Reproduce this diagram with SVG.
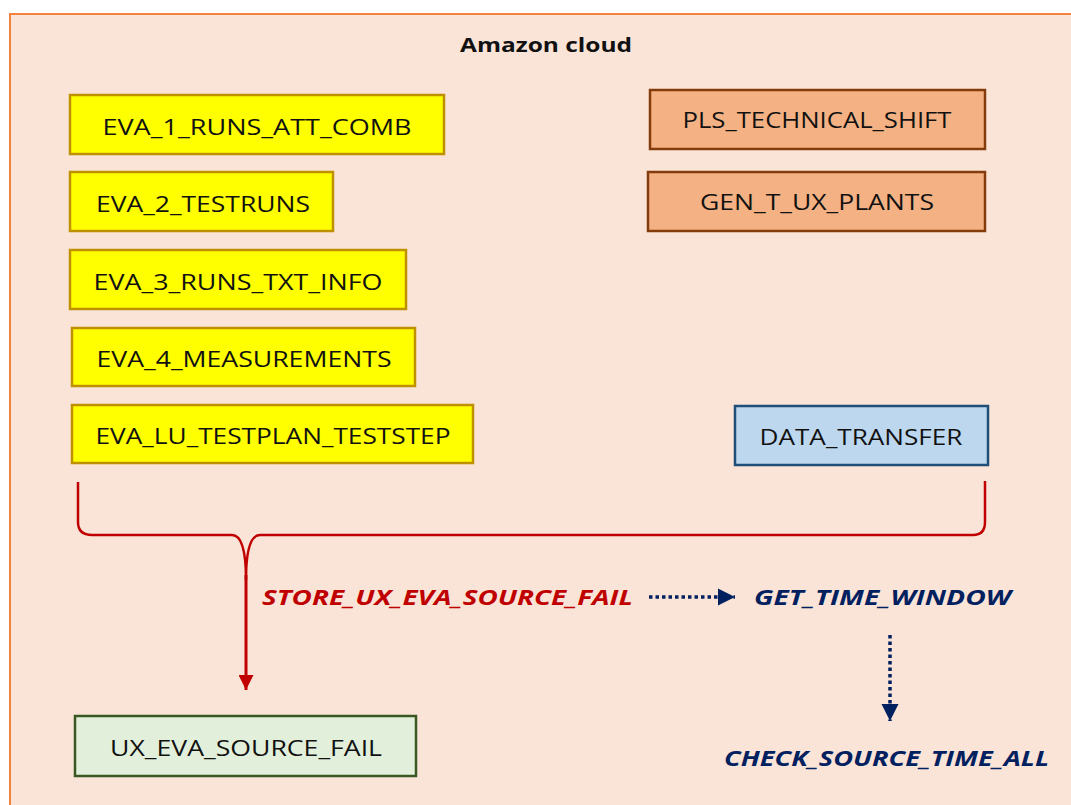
<svg xmlns="http://www.w3.org/2000/svg" width="1071" height="805" viewBox="0 0 1071 805">
<style>
.lbl{font-family:"Open Sans","Liberation Sans",sans-serif;font-size:22px;fill:#111;}
.yel{fill:#FFFF00;stroke:#BF9000;stroke-width:2.5;}
.org{fill:#F4B183;stroke:#843C0C;stroke-width:2.5;}
.blu{fill:#BDD7EE;stroke:#1F4E79;stroke-width:2.5;}
.grn{fill:#E2EFDA;stroke:#385723;stroke-width:2.5;}
.red{font-family:"Open Sans","Liberation Sans",sans-serif;font-size:22px;font-weight:bold;font-style:italic;fill:#C00000;}
.nav{font-family:"Open Sans","Liberation Sans",sans-serif;font-size:22px;font-weight:bold;font-style:italic;fill:#002060;}
</style>
<defs>
<marker id="ar" viewBox="0 0 10 10" refX="10" refY="5" markerWidth="5" markerHeight="5" orient="auto" markerUnits="strokeWidth"><path d="M0,0 L10,5 L0,10 z" fill="#C00000"/></marker>
<marker id="an" viewBox="0 0 10 10" refX="10" refY="5" markerWidth="5" markerHeight="5" orient="auto" markerUnits="strokeWidth"><path d="M0,0 L10,5 L0,10 z" fill="#002060"/></marker>
</defs>
<rect x="0" y="0" width="1071" height="805" fill="#FFFFFF"/>
<rect x="10" y="14" width="1075" height="800" fill="#FAE4D7" stroke="#F4823C" stroke-width="2"/>
<text x="546" y="52" text-anchor="middle" font-family="'Open Sans','Liberation Sans',sans-serif" font-size="20" font-weight="bold" fill="#111" textLength="172" lengthAdjust="spacingAndGlyphs">Amazon cloud</text>
<g id="eva1"><rect class="yel" x="70" y="95" width="374" height="59"/><text class="lbl" x="257" y="135" text-anchor="middle" textLength="309" lengthAdjust="spacingAndGlyphs">EVA_1_RUNS_ATT_COMB</text></g>
<g id="eva2"><rect class="yel" x="70" y="172" width="263" height="59"/><text class="lbl" x="203" y="212" text-anchor="middle" textLength="214" lengthAdjust="spacingAndGlyphs">EVA_2_TESTRUNS</text></g>
<g id="eva3"><rect class="yel" x="70" y="250" width="336" height="59"/><text class="lbl" x="238" y="290" text-anchor="middle" textLength="289" lengthAdjust="spacingAndGlyphs">EVA_3_RUNS_TXT_INFO</text></g>
<g id="eva4"><rect class="yel" x="72" y="328" width="343" height="58"/><text class="lbl" x="244" y="367" text-anchor="middle" textLength="295" lengthAdjust="spacingAndGlyphs">EVA_4_MEASUREMENTS</text></g>
<g id="evalu"><rect class="yel" x="72" y="405" width="401" height="58"/><text class="lbl" x="273" y="444" text-anchor="middle" textLength="355" lengthAdjust="spacingAndGlyphs">EVA_LU_TESTPLAN_TESTSTEP</text></g>
<g id="pls"><rect class="org" x="650" y="90" width="335" height="59"/><text class="lbl" x="817" y="128" text-anchor="middle" textLength="269" lengthAdjust="spacingAndGlyphs">PLS_TECHNICAL_SHIFT</text></g>
<g id="gen"><rect class="org" x="648" y="172" width="337" height="59"/><text class="lbl" x="817" y="210" text-anchor="middle" textLength="234" lengthAdjust="spacingAndGlyphs">GEN_T_UX_PLANTS</text></g>
<g id="data"><rect class="blu" x="735" y="406" width="253" height="59"/><text class="lbl" x="861" y="445" text-anchor="middle" textLength="203" lengthAdjust="spacingAndGlyphs">DATA_TRANSFER</text></g>
<g id="ux"><rect class="grn" x="75" y="716" width="341" height="60"/><text class="lbl" x="246" y="756" text-anchor="middle" textLength="272" lengthAdjust="spacingAndGlyphs">UX_EVA_SOURCE_FAIL</text></g>
<g id="connectors" fill="none">
<path d="M78,482 L78,522 Q78,535 92,535 L232,535 Q246,535 246,580 Q246,535 260,535 L973,535 Q985,535 985,522 L985,481" stroke="#C00000" stroke-width="2.5"/>
<path d="M246,575 L246,690" stroke="#C00000" stroke-width="3" marker-end="url(#ar)"/>
<path d="M649,597 L735,597" stroke="#002060" stroke-width="3.5" stroke-dasharray="3.5,3" marker-end="url(#an)"/>
<path d="M890,635 L890,721" stroke="#002060" stroke-width="3.5" stroke-dasharray="3.5,3" marker-end="url(#an)"/>
</g>
<text class="red" x="262" y="605" textLength="371" lengthAdjust="spacingAndGlyphs">STORE_UX_EVA_SOURCE_FAIL</text>
<text class="nav" x="754" y="605" textLength="257" lengthAdjust="spacingAndGlyphs">GET_TIME_WINDOW</text>
<text class="nav" x="724" y="766" textLength="325" lengthAdjust="spacingAndGlyphs">CHECK_SOURCE_TIME_ALL</text>
</svg>
